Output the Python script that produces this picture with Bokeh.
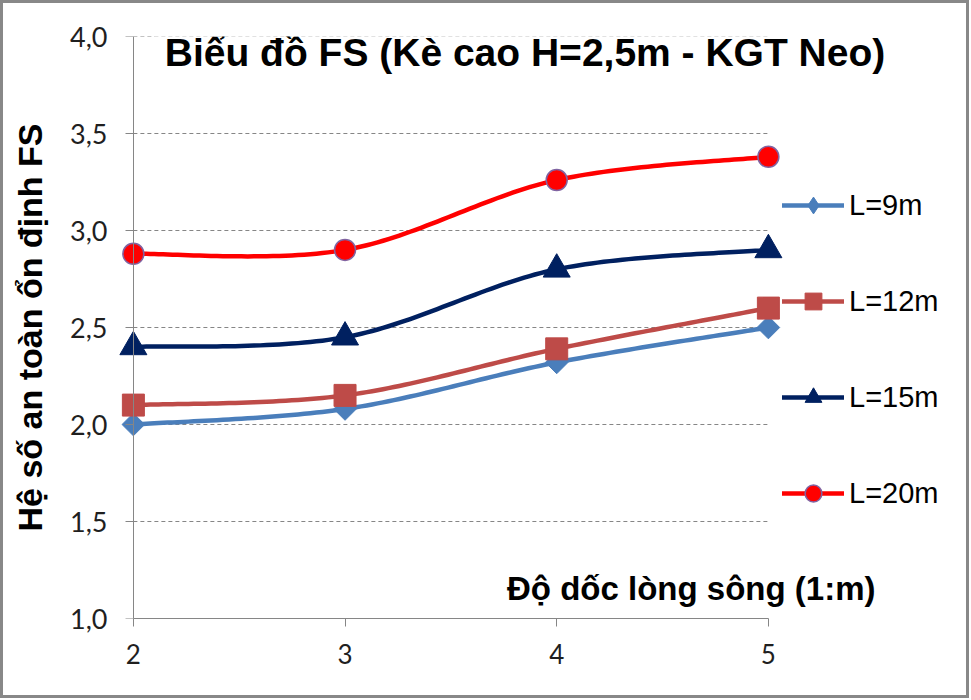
import numpy as np
from bokeh.plotting import figure
from bokeh.models import (Range1d, FixedTicker, CustomJSTickFormatter, Legend,
                          LegendItem, Label, LinearAxis)
from bokeh.embed import file_html
from bokeh.resources import INLINE

# ---------------- data ----------------
slopes = [2, 3, 4, 5]
fs_L9 = [2.00, 2.08, 2.32, 2.50]
fs_L12 = [2.10, 2.15, 2.39, 2.60]
fs_L15 = [2.40, 2.45, 2.80, 2.90]
fs_L20 = [2.88, 2.90, 3.26, 3.38]
series_names = ["L=9m", "L=12m", "L=15m", "L=20m"]
y_ticks = [1.0, 1.5, 2.0, 2.5, 3.0, 3.5, 4.0]
x_ticks = [2, 3, 4, 5]

title_text = "Biểu đồ FS (Kè cao H=2,5m - KGT Neo)"
x_title = "Độ dốc lòng sông (1:m)"
y_title = "Hệ số an toàn ổn định FS"

FONT = "Liberation Sans"
TICK_FONT = "Lato"
AXIS_GRAY = "#868686"
BORDER = 3

# layout (pixels)
PX_PER_UNIT = 635.0 / 3.0
PAD_PX = 15.875
FRAME_W = 843
FRAME_H = 582
X_START = x_ticks[0] - PAD_PX / PX_PER_UNIT
X_END = X_START + FRAME_W / PX_PER_UNIT


def smooth(xs, ys, n=40):
    """Excel-like smoothed line (cubic Bezier through the points)."""
    px = np.asarray(xs, float)
    py = np.asarray(ys, float)
    m = len(px)
    t = np.linspace(0.0, 1.0, n)
    ox, oy = [], []
    for i in range(m - 1):
        i0 = max(i - 1, 0)
        i3 = min(i + 2, m - 1)
        c1x = px[i] + (px[i + 1] - px[i0]) / 6.0
        c1y = py[i] + (py[i + 1] - py[i0]) / 6.0
        c2x = px[i + 1] - (px[i3] - px[i]) / 6.0
        c2y = py[i + 1] - (py[i3] - py[i]) / 6.0
        bx = ((1 - t) ** 3 * px[i] + 3 * (1 - t) ** 2 * t * c1x
              + 3 * (1 - t) * t ** 2 * c2x + t ** 3 * px[i + 1])
        by = ((1 - t) ** 3 * py[i] + 3 * (1 - t) ** 2 * t * c1y
              + 3 * (1 - t) * t ** 2 * c2y + t ** 3 * py[i + 1])
        if i > 0:
            bx, by = bx[1:], by[1:]
        ox.extend(bx.tolist())
        oy.extend(by.tolist())
    return ox, oy


p = figure(x_range=Range1d(X_START, X_END), y_range=Range1d(y_ticks[0], y_ticks[-1]),
           frame_width=FRAME_W, frame_height=FRAME_H,
           min_border_left=117 - BORDER, min_border_top=36 - BORDER,
           min_border_bottom=77, min_border_right=6,
           output_backend="svg", toolbar_location=None,
           background_fill_color="white", border_fill_color="white",
           outline_line_color=None)
p.styles = {"border": f"{BORDER}px solid #888888"}

p.xgrid.visible = False
p.ygrid.visible = False

# dashed horizontal gridlines spanning the category extent
p.segment(x0=[x_ticks[0]] * len(y_ticks), x1=[x_ticks[-1]] * len(y_ticks),
          y0=y_ticks, y1=y_ticks, line_color=AXIS_GRAY, line_width=1,
          line_dash="4 3")

# x axis
xa = p.xaxis[0]
xa.ticker = FixedTicker(ticks=x_ticks)
xa.bounds = (x_ticks[0], x_ticks[-1])
xa.axis_line_color = AXIS_GRAY
xa.major_tick_line_color = AXIS_GRAY
xa.major_tick_out = 8
xa.major_tick_in = 0
xa.minor_tick_line_color = None
xa.major_label_text_font = TICK_FONT
xa.major_label_text_font_size = "26px"
xa.major_label_text_color = "#1f1f1f"
xa.major_label_standoff = 17

# y axis: labels and title (at the frame edge)
ya = p.yaxis[0]
ya.ticker = FixedTicker(ticks=y_ticks)
ya.formatter = CustomJSTickFormatter(code="return tick.toFixed(1).replace('.', ',');")
ya.axis_line_color = None
ya.major_tick_line_color = None
ya.major_tick_out = 0
ya.major_tick_in = 0
ya.minor_tick_line_color = None
ya.major_label_text_font = TICK_FONT
ya.major_label_text_font_size = "27px"
ya.major_label_text_color = "#1f1f1f"
ya.major_label_standoff = 10
ya.axis_label = y_title
ya.axis_label_text_font = FONT
ya.axis_label_text_font_style = "bold"
ya.axis_label_text_font_size = "34px"
ya.axis_label_text_color = "black"
ya.axis_label_standoff = 18

# y axis line and ticks crossing at the first category
ya2 = LinearAxis(ticker=FixedTicker(ticks=y_ticks), fixed_location=x_ticks[0],
                 bounds=(y_ticks[0], y_ticks[-1]),
                 formatter=CustomJSTickFormatter(code="return '';"),
                 axis_line_color=AXIS_GRAY, major_tick_line_color=AXIS_GRAY,
                 major_tick_out=8, major_tick_in=0, minor_tick_line_color=None)
p.add_layout(ya2, "left")

# series
styles = [
    dict(color="#4A7EBB", marker="square", size=16, angle=np.pi / 4,
         outline="#4A7EBB", ow=1, legend_marker="diamond"),
    dict(color="#BE4B48", marker="square", size=22, angle=0.0,
         outline="#BE4B48", ow=1, legend_marker=None),
    dict(color="#002060", marker="triangle", size=27, angle=0.0,
         outline="#002060", ow=1, legend_marker=None),
    dict(color="#FF0000", marker="circle", size=21, angle=0.0,
         outline="#8064A2", ow=1.5, legend_marker=None),
]
data = [fs_L9, fs_L12, fs_L15, fs_L20]

items = []
for name, vals, st in zip(series_names, data, styles):
    sx, sy = smooth(slopes, vals)
    lr = p.line(sx, sy, line_color=st["color"], line_width=4.5,
                line_join="round", line_cap="round")
    sr = p.scatter(slopes, vals, marker=st["marker"], size=st["size"],
                   angle=st["angle"], fill_color=st["color"],
                   line_color=st["outline"], line_width=st["ow"])
    if st["legend_marker"]:
        # legend-only symbol (the legend does not rotate markers)
        proxy = p.scatter([np.nan], [np.nan], marker=st["legend_marker"],
                          size=st["size"], fill_color=st["color"],
                          line_color=st["outline"], line_width=st["ow"])
        items.append(LegendItem(label=name, renderers=[lr, proxy]))
    else:
        items.append(LegendItem(label=name, renderers=[lr, sr]))

legend = Legend(items=items, location=(665, 104), glyph_width=62,
                glyph_height=42, label_height=42, spacing=54,
                label_standoff=5, padding=2, margin=0,
                border_line_color=None, background_fill_alpha=0,
                label_text_font=FONT, label_text_font_size="29px",
                label_text_color="black")
p.add_layout(legend)

title = Label(x=407.5, y=566, x_units="screen", y_units="screen",
              text=title_text, text_font=FONT, text_font_size="39px",
              text_font_style="bold", text_color="black",
              text_align="center", text_baseline="middle",
              background_fill_color="white", padding=10)
p.add_layout(title)

xlabel = Label(x=758, y=30, x_units="screen", y_units="screen",
               text=x_title, text_font=FONT, text_font_size="33px",
               text_font_style="bold", text_color="black",
               text_align="right", text_baseline="middle")
p.add_layout(xlabel)

open("out.html", "w").write(file_html(p, INLINE))
